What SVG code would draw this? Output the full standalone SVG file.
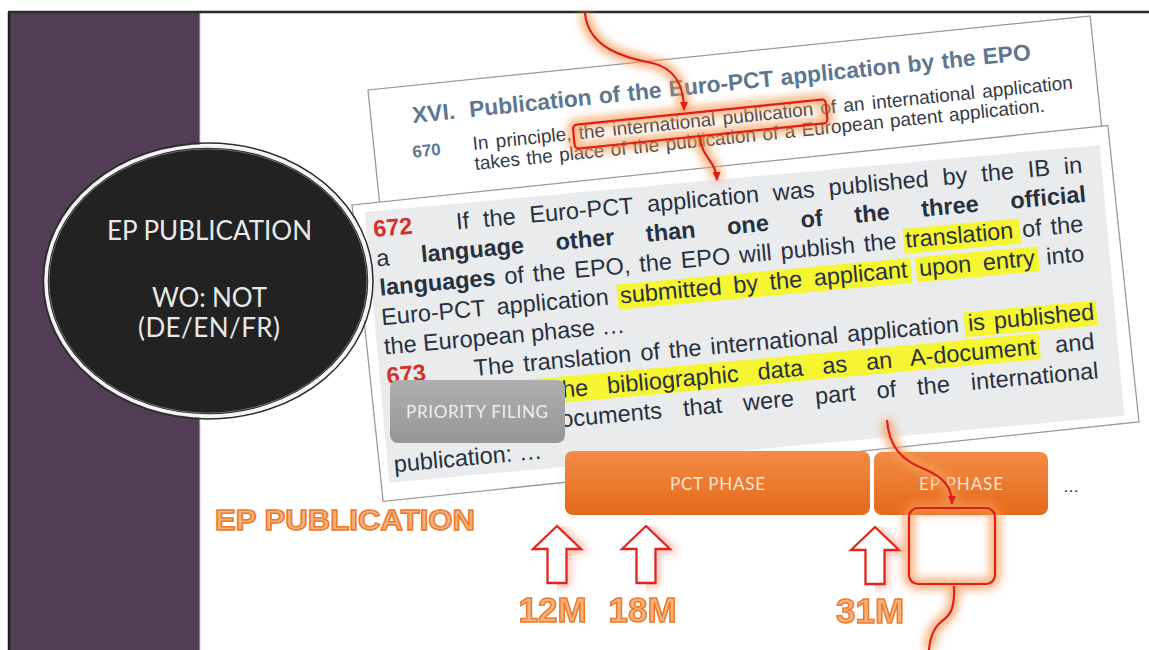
<svg xmlns="http://www.w3.org/2000/svg" width="1149" height="650" viewBox="0 0 1149 650">
  <defs>
    <style>
      .doc { fill: #ffffff; stroke: #9a9a9a; stroke-width: 1.3; }
      .body { font-family: "Liberation Sans", Arial, sans-serif; font-size: 23.5px; fill: #27303f; }
      .b { font-weight: bold; }
      .num { font-family: "Liberation Sans", Arial, sans-serif; font-size: 23.5px; font-weight: bold; fill: #d3302b; }
      .hl { fill: #f6f531; }
      .d1 { font-family: "Liberation Sans", Arial, sans-serif; font-size: 19px; fill: #353b47; }
      .d1t { font-family: "Liberation Sans", Arial, sans-serif; font-size: 22.8px; font-weight: bold; fill: #5d7791; }
      .red { fill: none; stroke: #e01d1a; stroke-width: 2.2; }
      .glow { fill: none; stroke: #f59b55; stroke-width: 12; stroke-opacity: 0.72; filter: url(#blur); }
      .wordart { font-family: "Liberation Sans", Arial, sans-serif; font-weight: bold; fill: #f7b27c; stroke: #eb7a2d; stroke-width: 1.5; }
      .box-label { font-family: Lato, "Open Sans", sans-serif; font-size: 17px; text-anchor: middle; }
      .circle-label { font-family: Lato, "Open Sans", sans-serif; font-size: 26px; fill: #e9e9e9; text-anchor: middle; }
    </style>
    <filter id="blur" filterUnits="userSpaceOnUse" x="0" y="0" width="1149" height="650">
      <feGaussianBlur stdDeviation="4"/>
    </filter>
    <linearGradient id="orange" x1="0" y1="0" x2="0" y2="1">
      <stop offset="0" stop-color="#f38c45"/>
      <stop offset="1" stop-color="#e4691b"/>
    </linearGradient>
    <linearGradient id="grey" x1="0" y1="0" x2="0" y2="1">
      <stop offset="0" stop-color="#afafaf"/>
      <stop offset="1" stop-color="#969696"/>
    </linearGradient>
    <marker id="head" markerWidth="10" markerHeight="10" refX="8" refY="5" orient="auto" markerUnits="userSpaceOnUse">
      <path d="M0,1 L9,5 L0,9 Z" fill="#e01d1a"/>
    </marker>
    <path id="up" d="M0,0 L24,23 L9.5,23 L9.5,57 L-9.5,57 L-9.5,23 L-24,23 Z"/>
  </defs>

  <!-- slide frame -->
  <rect width="1149" height="650" fill="#ffffff"/>
  <rect x="9" y="12" width="191" height="638" fill="#523c56"/>
  <line x1="200" y1="12" x2="200" y2="650" stroke="#cfcfcf" stroke-width="1"/>
  <line x1="9" y1="12" x2="9" y2="650" stroke="#1c1c1c" stroke-width="2.5"/>
  <line x1="8" y1="12" x2="1149" y2="12" stroke="#2a2a2a" stroke-width="2.5"/>

  <!-- guideline excerpt, chapter XVI -->
  <g id="doc-chapter" transform="translate(368,90) rotate(-5.85)">
    <rect class="doc" width="726" height="170"/>
    <text class="d1t" x="41.4" y="37.4">XVI.</text>
    <text class="d1t" x="98.7" y="37.4" word-spacing="1">Publication of the Euro-PCT application by the EPO</text>
    <text class="d1t" x="37.9" y="72" style="font-size:17px">670</text>
    <text class="d1" x="98.6" y="70.5" word-spacing="2.1">In principle, the international publication of an international application</text>
    <text class="d1" x="98.6" y="90.5" word-spacing="1.2">takes the place of the publication of a European patent application.</text>
  </g>

  <!-- guideline excerpt, points 672/673 -->
  <g id="doc-points" transform="translate(352,205)">
    <rect class="doc" width="760" height="298" transform="rotate(-6)"/>
    <g transform="rotate(-5.2)">
      <rect x="12" y="8" width="738" height="272" fill="#eaebed"/>
      <rect class="hl" x="546" y="73.9" width="117" height="25"/>
      <rect class="hl" x="256" y="103.4" width="295" height="25"/>
      <rect class="hl" x="556" y="103.4" width="123" height="25"/>
      <rect class="hl" x="599" y="162.4" width="133" height="25"/>
      <rect class="hl" x="150" y="190" width="522" height="26"/>
      <text class="num" x="19" y="33.9">672</text>
      <text class="body" x="102" y="33.9" word-spacing="7.5">If the Euro-PCT application was published by the IB in</text>
      <text class="body" x="19.3" y="63.4" word-spacing="25.4">a <tspan class="b">language other than one of the three official</tspan></text>
      <text class="body" x="20" y="92.9" word-spacing="2.47"><tspan class="b">languages</tspan> of the EPO, the EPO will publish the translation of the</text>
      <text class="body" x="19" y="122.4" word-spacing="5.15">Euro-PCT application submitted by the applicant upon entry into</text>
      <text class="body" x="19" y="151.9">the European phase …</text>
      <text class="num" x="19" y="181.4">673</text>
      <text class="body" x="106.5" y="181.4" word-spacing="2.57">The translation of the international application is published</text>
      <text class="body" x="185.8" y="210.9" word-spacing="12.65">the bibliographic data as an A-document and</text>
      <text class="body" x="175" y="240.4" word-spacing="14.7">documents that were part of the international</text>
      <text class="body" x="18" y="269.9">publication: …</text>
    </g>
  </g>

  <!-- topic badge -->
  <g id="badge">
    <ellipse cx="208" cy="281" rx="165" ry="138" fill="none" stroke="#2b2b2b" stroke-width="1.5"/>
    <ellipse cx="208" cy="281" rx="162" ry="135" fill="#222222" stroke="#f4f4f4" stroke-width="3.5"/>
    <ellipse cx="208" cy="281" rx="159" ry="132" fill="none" stroke="#6e6e6e" stroke-width="1"/>
    <text class="circle-label" x="209.5" y="240" textLength="205">EP PUBLICATION</text>
    <text class="circle-label" x="209.5" y="307" textLength="115">WO: NOT</text>
    <text class="circle-label" x="209" y="337" textLength="142">(DE/EN/FR)</text>
  </g>

  <!-- timeline phases -->
  <g id="priority-filing">
    <rect x="390" y="380" width="175" height="63" rx="8" fill="url(#grey)"/>
    <text class="box-label" x="477" y="418" textLength="142" fill="#efefef">PRIORITY FILING</text>
  </g>
  <g id="pct-phase">
    <rect x="565" y="451" width="305" height="64" rx="8" fill="url(#orange)"/>
    <text class="box-label" x="717.5" y="490" textLength="95" fill="#fde6d5">PCT PHASE</text>
  </g>
  <g id="ep-phase">
    <rect x="874" y="452" width="174" height="63" rx="8" fill="url(#orange)"/>
    <text class="box-label" x="961" y="490" textLength="84" fill="#fde6d5">EP PHASE</text>
  </g>
  <text id="more" x="1063" y="492" font-family="Liberation Sans, Arial, sans-serif" font-size="16" fill="#222">…</text>

  <text id="title" class="wordart" x="215" y="530" font-size="29" textLength="260" lengthAdjust="spacingAndGlyphs">EP PUBLICATION</text>

  <!-- time markers -->
  <g id="markers">
    <g opacity="0.55">
      <use href="#up" x="557" y="526" fill="none" stroke="#f2705a" stroke-width="7" filter="url(#blur)"/>
      <use href="#up" x="646" y="526" fill="none" stroke="#f2705a" stroke-width="7" filter="url(#blur)"/>
      <use href="#up" x="875" y="527" fill="none" stroke="#f2705a" stroke-width="7" filter="url(#blur)"/>
    </g>
    <use href="#up" x="557" y="526" fill="#ffffff" stroke="#e4241c" stroke-width="2.3"/>
    <use href="#up" x="646" y="526" fill="#ffffff" stroke="#e4241c" stroke-width="2.3"/>
    <use href="#up" x="875" y="527" fill="#ffffff" stroke="#e4241c" stroke-width="2.3"/>
    <text class="wordart" x="552.5" y="622" font-size="35" text-anchor="middle">12M</text>
    <text class="wordart" x="642.5" y="622" font-size="35" text-anchor="middle">18M</text>
    <text class="wordart" x="870" y="623" font-size="35" text-anchor="middle">31M</text>
  </g>

  <!-- callouts and connectors -->
  <g id="connectors">
    <g class="glow">
      <path d="M585,13 C588,48 625,58 652,63 C676,68 684,88 684,110"/>
      <rect x="200" y="55.7" width="254" height="24" rx="4" transform="translate(368,90) rotate(-5.85)"/>
      <path d="M700,136 C701,158 716,160 717,180"/>
      <path d="M887,420 C889,447 902,460 922,468 C944,477 952,487 952,504"/>
      <rect x="909" y="508" width="86" height="76" rx="9"/>
      <path d="M954,586 C955,607 951,615 942,621 C933,628 930,638 929,650"/>
    </g>
    <rect class="red" x="200" y="55.7" width="254" height="24" rx="4" transform="translate(368,90) rotate(-5.85)"/>
    <rect class="red" x="909" y="508" width="86" height="76" rx="9"/>
    <path class="red" d="M585,13 C588,48 625,58 652,63 C676,68 684,88 684,110" marker-end="url(#head)"/>
    <path class="red" d="M700,136 C701,158 716,160 717,180" marker-end="url(#head)"/>
    <path class="red" d="M887,420 C889,447 902,460 922,468 C944,477 952,487 952,504" marker-end="url(#head)"/>
    <path class="red" d="M954,586 C955,607 951,615 942,621 C933,628 930,638 929,650"/>
  </g>
</svg>
